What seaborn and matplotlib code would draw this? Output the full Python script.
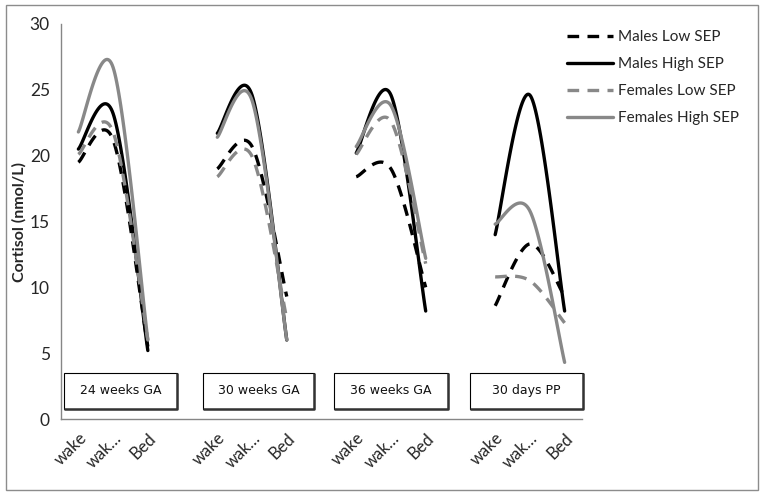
"""
Cortisol profiles by sex and SEP across pregnancy stages
Excel-style smoothed lines, rebuilt with seaborn
"""

import numpy as np
import pandas as pd
import matplotlib
matplotlib.use("Agg")
import matplotlib.pyplot as plt
import matplotlib.transforms as mtransforms
from matplotlib.lines import Line2D
from matplotlib.patches import Rectangle
import seaborn as sns

# Data
stages = ["24 weeks GA", "30 weeks GA", "36 weeks GA", "30 days PP"]
times = ["wake", "wak\u2026", "Bed"]
series_names = ["Males Low SEP", "Males High SEP", "Females Low SEP", "Females High SEP"]

males_low = [[19.5, 21.2, 5.5], [19.0, 20.7, 9.3], [18.4, 19.0, 10.0], [8.6, 13.3, 9.3]]
males_high = [[20.5, 23.2, 5.2], [21.7, 24.6, 6.0], [20.2, 24.6, 8.2], [14.0, 24.6, 8.2]]
females_low = [[20.1, 21.8, 6.0], [18.4, 19.95, 7.6], [20.1, 22.6, 11.8], [10.8, 10.5, 7.3]]
females_high = [[21.8, 26.7, 6.0], [21.4, 24.2, 6.0], [20.7, 23.8, 12.2], [14.8, 15.8, 4.3]]

all_values = [males_low, males_high, females_low, females_high]

colors = {"Males Low SEP": "black", "Males High SEP": "black",
          "Females Low SEP": "#888888", "Females High SEP": "#888888"}
dash_map = {"Males Low SEP": (3.5, 2.5), "Males High SEP": "",
            "Females Low SEP": (3.5, 2.5), "Females High SEP": ""}


def smooth(xs, ys, n=40):
    # Catmull-Rom style bezier, like Excel's "smoothed line"
    pts = np.column_stack([xs, ys]).astype(float)
    P = np.vstack([pts[0], pts, pts[-1]])
    t = np.linspace(0, 1, n)[:, None]
    out = []
    for i in range(len(pts) - 1):
        p0, p1, p2, p3 = P[i], P[i + 1], P[i + 2], P[i + 3]
        c1 = p1 + (p2 - p0) / 6
        c2 = p2 - (p3 - p1) / 6
        seg = (1 - t) ** 3 * p1 + 3 * (1 - t) ** 2 * t * c1 + 3 * (1 - t) * t ** 2 * c2 + t ** 3 * p2
        out.append(seg if i == 0 else seg[1:])
    return np.vstack(out)


rows = []
for name, vals in zip(series_names, all_values):
    for g, stage in enumerate(stages):
        xs = [4 * g + k for k in range(len(times))]
        curve = smooth(xs, vals[g])
        for x, y in curve:
            rows.append({"x": x, "y": y, "series": name, "stage": stage})
df = pd.DataFrame(rows)

sns.set_style("white")
plt.rcParams["font.family"] = ["Lato", "DejaVu Sans"]

fig = plt.figure(figsize=(7.64, 4.97), dpi=100)
ax = fig.add_axes([61 / 764, 1 - 419 / 497, (582 - 61) / 764, (419 - 24) / 497])

sns.lineplot(data=df, x="x", y="y", hue="series", style="series", units="stage",
             estimator=None, sort=False, palette=colors, dashes=dash_map,
             linewidth=2.4, legend=False, ax=ax)

# axes styling
axis_gray = "#868686"
ax.set_xlim(-0.5, 14.5)
ax.set_ylim(0, 30)
ax.set_yticks(range(0, 31, 5))
ax.tick_params(axis="y", length=5, width=1, color=axis_gray, labelsize=12.5, pad=3)

tick_labels = []
for g in range(len(stages)):
    tick_labels += times
    if g < len(stages) - 1:
        tick_labels.append("")
ax.set_xticks(range(len(tick_labels)))
ax.set_xticklabels(tick_labels, rotation=45, ha="right", va="center",
                   rotation_mode="anchor", fontsize=12)
ax.tick_params(axis="x", which="major", length=0, pad=12)
shift = mtransforms.ScaledTranslation(4 / 72, 0, fig.dpi_scale_trans)
for lbl in ax.get_xticklabels():
    lbl.set_transform(lbl.get_transform() + shift)
ax.set_xticks(np.arange(-0.5, 15, 1), minor=True)
ax.tick_params(axis="x", which="minor", length=5, width=1, color=axis_gray)

for side in ["top", "right"]:
    ax.spines[side].set_visible(False)
for side in ["left", "bottom"]:
    ax.spines[side].set_color(axis_gray)
    ax.spines[side].set_linewidth(1)

ax.set_xlabel("")
ax.set_ylabel("Cortisol (nmol/L)", fontsize=11.5, fontweight="bold", labelpad=2)

# stage boxes
box_x = [(-0.41, 2.84), (3.59, 6.78), (7.36, 10.64), (11.28, 14.53)]
for (x0, x1), stage in zip(box_x, stages):
    y0, y1 = 0.76, 3.5
    ax.add_patch(Rectangle((x0, y0), x1 - x0, y1 - y0, facecolor="white",
                           edgecolor="black", linewidth=0.8, zorder=3, clip_on=False))
    ax.plot([x0, x1, x1], [y0, y0, y1], color="#333333", linewidth=1.8, zorder=4,
            solid_capstyle="butt", clip_on=False)
    ax.text((x0 + x1) / 2, (y0 + y1) / 2, stage, ha="center", va="center",
            fontsize=9, family="DejaVu Sans", color="#111111", zorder=5)

# legend
handles = []
for n in series_names:
    h = Line2D([0], [0], color=colors[n], linewidth=2.4)
    if dash_map[n]:
        h.set_dashes(dash_map[n])
    handles.append(h)
fig.legend(handles, series_names, loc="upper left", bbox_to_anchor=(567 / 764, 1 - 30 / 497),
           frameon=False, fontsize=11, handlelength=3.0, handletextpad=0.35,
           labelspacing=0.85, borderpad=0, borderaxespad=0)

# chart border
fig.patches.append(Rectangle((6 / 764, 7 / 497), 752 / 764, 485 / 497, transform=fig.transFigure,
                             fill=False, edgecolor="#8c8c8c", linewidth=1))

fig.savefig("out.png", dpi=100)
